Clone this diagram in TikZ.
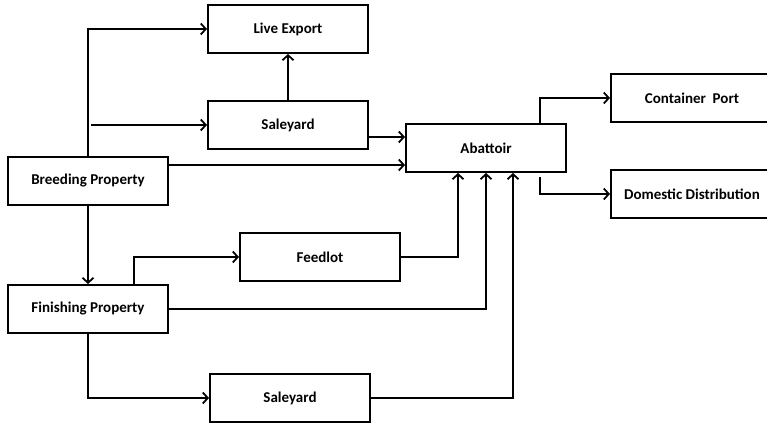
\documentclass[tikz,border=0pt]{standalone}
\usepackage{fontspec}
\setmainfont{Carlito}
\usepackage{tikz}
\usetikzlibrary{arrows.meta, positioning, calc}
\tikzset{
    stage/.style={rectangle, draw=black, line width=2pt, minimum width=160pt, minimum height=48pt, font=\fontsize{15}{17}\selectfont\bfseries, inner sep=2pt},
    flow/.style={-{Straight Barb[length=5pt, width=11pt, line width=1.8pt]}, line width=2pt, black},
    link/.style={line width=2pt, black}
}

\begin{document}
\begin{tikzpicture}[x=1pt, y=1pt, node distance=48pt]
      \useasboundingbox (0,0) rectangle (767,425);

      \node (breeding) [stage] at (88,244) {Breeding Property};
      \node (live) [stage] at (288,396) {Live Export};
      \node (saletop) [stage, below=46pt of live] {Saleyard};
      \node (finishing) [stage, below=78pt of breeding] {Finishing Property};
      \node (feedlot) [stage, above right=2pt and 70pt of finishing] {Feedlot};
      \node (salebot) [stage, below right=39pt and 40pt of finishing] {Saleyard};
      \node (abattoir) [stage] at (486,277) {Abattoir};
      \node (port) [stage, minimum width=162pt] at (692,327) {Container~ Port};
      \node (domestic) [stage, minimum width=162pt, below=46pt of port] {Domestic Distribution};

      \coordinate (tap) at ([xshift=3pt]breeding.north |- saletop.west);

      % breeding property outlets
      \draw [flow] (breeding.north) |- (live.west);
      \draw [flow] (tap) -- (saletop.west);
      \draw [flow] (saletop.north) -- (live.south);
      \draw [flow] ([yshift=-12pt]saletop.east) -- ([yshift=-12pt]saletop.east -| abattoir.west);
      \draw [flow] ([yshift=16pt]breeding.east) -- ([yshift=16pt]breeding.east -| abattoir.west);
      \draw [flow] (breeding.south) -- (finishing.north);

      % finishing property outlets
      \draw [flow] ([xshift=46pt]finishing.north) |- (feedlot.west);
      \draw [flow] (finishing.south) |- (salebot.west);
      \draw [flow] (feedlot.east) -| ([xshift=-28pt]abattoir.south);
      \draw [flow] (finishing.east) -| (abattoir.south);
      \draw [flow] (salebot.east) -| ([xshift=27pt]abattoir.south);

      % abattoir outlets
      \draw [flow] ([xshift=54pt]abattoir.north) |- (port.west);
      \draw [flow] ([xshift=54pt, yshift=-4pt]abattoir.south) |- (domestic.west);
    \end{tikzpicture}
\end{document}
